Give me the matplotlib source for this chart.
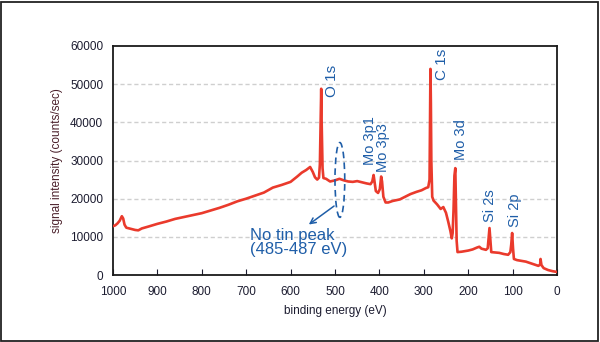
import matplotlib.pyplot as plt
from matplotlib.patches import Ellipse, Rectangle

plt.rcParams['font.family'] = ['Liberation Sans', 'DejaVu Sans']

# XPS survey spectrum (binding energy in eV, counts/sec)
binding_energy = [1000, 995, 990, 985, 980, 977, 974, 970, 960, 950, 943, 935, 920, 900,
                  880, 860, 840, 820, 800, 780, 760, 740, 720, 700, 680, 660, 640, 620,
                  600, 585, 575, 565, 556, 550, 545, 540, 536, 534, 532, 531, 530, 528,
                  526, 520, 511, 500, 490, 480, 470, 460, 450, 440, 429, 420, 416, 413,
                  411, 408, 403, 399, 396, 394, 391, 386, 380, 370, 354, 340, 330, 316,
                  305, 295, 290, 287, 286, 285, 284, 283, 281, 278, 270, 262, 256, 250,
                  245, 240, 237, 235, 233, 231, 229, 228, 226, 224, 215, 200, 190, 180,
                  175, 170, 160, 156, 154, 152, 150, 148, 140, 130, 120, 110, 105, 103,
                  101, 99, 97, 90, 80, 70, 60, 50, 42, 38, 37, 35, 30, 20, 10, 0]
intensity = [12800, 13000, 13500, 14200, 15400, 14800, 13200, 12400, 12100, 11800, 11700,
             12200, 12700, 13400, 14000, 14700, 15200, 15700, 16200, 16900, 17600, 18400,
             19300, 20000, 20800, 21600, 22900, 23600, 24400, 25800, 26800, 27500, 28300,
             27000, 25600, 25000, 25500, 29000, 42000, 48800, 40000, 28000, 25400, 25200,
             24500, 24800, 25200, 24800, 24500, 24400, 24600, 24300, 24000, 23800, 24500,
             26200, 24500, 22000, 21500, 22500, 25800, 24500, 20500, 19000, 19000, 19400,
             19800, 20600, 21200, 21800, 22200, 22800, 23000, 25000, 38000, 54000, 45000,
             30000, 20500, 19500, 18500, 17300, 17800, 16300, 14000, 11500, 9600, 11000,
             17000, 26000, 28000, 22000, 9000, 6000, 6100, 6400, 6700, 7200, 7400, 6900,
             6600, 7000, 9500, 12300, 9000, 6000, 5900, 5800, 5500, 5300, 6000, 8000,
             11000, 7000, 4200, 3900, 3700, 3500, 3100, 2700, 2400, 2700, 4200, 2600,
             1800, 1300, 1000, 800]

# peak labels: text, x (eV), y (counts/sec) of the label's lower end
peak_labels = ["O 1s", "C 1s", "Mo 3p1", "Mo 3p3", "Mo 3d", "Si 2s", "Si 2p"]
label_x = [507, 260, 421, 391, 216, 151, 95]
label_y = [46600, 51000, 28800, 27100, 30100, 14000, 12700]
label_size = [11, 11, 10.5, 10.5, 10.5, 10.5, 10.5]

red = '#ea3a2c'
blue = '#1f5ea8'
dark = '#1c1c30'

fig = plt.figure(figsize=(6, 3.42), dpi=100)
fig.patches.append(Rectangle((0.002, 0.004), 0.994, 0.99, transform=fig.transFigure,
                             fill=False, edgecolor='#222222', linewidth=1.3))
ax = fig.add_axes([0.1883, 0.1959, 0.74, 0.6696])

ax.plot(binding_energy, intensity, color=red, linewidth=1.9, zorder=3)

ax.set_xlim(1000, 0)
ax.set_ylim(0, 60000)
ax.set_xticks(range(1000, -1, -100))
ax.set_yticks(range(0, 60001, 10000))
ax.tick_params(axis='x', direction='in', length=4, labelsize=8.5, colors=dark, pad=8)
ax.tick_params(axis='y', direction='in', length=0, labelsize=8.5, colors=dark, pad=7)
for s in ax.spines.values():
    s.set_linewidth(1.3)
    s.set_color('#1a1a1a')
for yv in range(10000, 60000, 10000):
    ax.axhline(yv, color='#cfcfcf', linewidth=1, dashes=(3, 2), zorder=1)

ax.set_xlabel("binding energy (eV)", fontsize=8.5, color=dark, labelpad=5)
ax.set_ylabel("signal intensity (counts/sec)", fontsize=8.5, color='#4a1f2a', labelpad=5)

for t, x, y, fs in zip(peak_labels, label_x, label_y, label_size):
    ax.text(x, y, t, rotation=90, ha='center', va='bottom', fontsize=fs, color=blue)

ax.add_patch(Ellipse((489, 24900), 22, 19600, fill=False, edgecolor=blue,
                     linewidth=1.2, linestyle=(0, (4, 2.5)), zorder=4))
ax.annotate("", xy=(564, 12800), xytext=(497, 18500),
            arrowprops=dict(arrowstyle='->', color=blue, lw=1.1))
ax.text(692, 12300, "No tin peak\n(485-487 eV)", ha='left', va='top', fontsize=12,
        color=blue, linespacing=0.95)

fig.savefig("out.png", dpi=100)
